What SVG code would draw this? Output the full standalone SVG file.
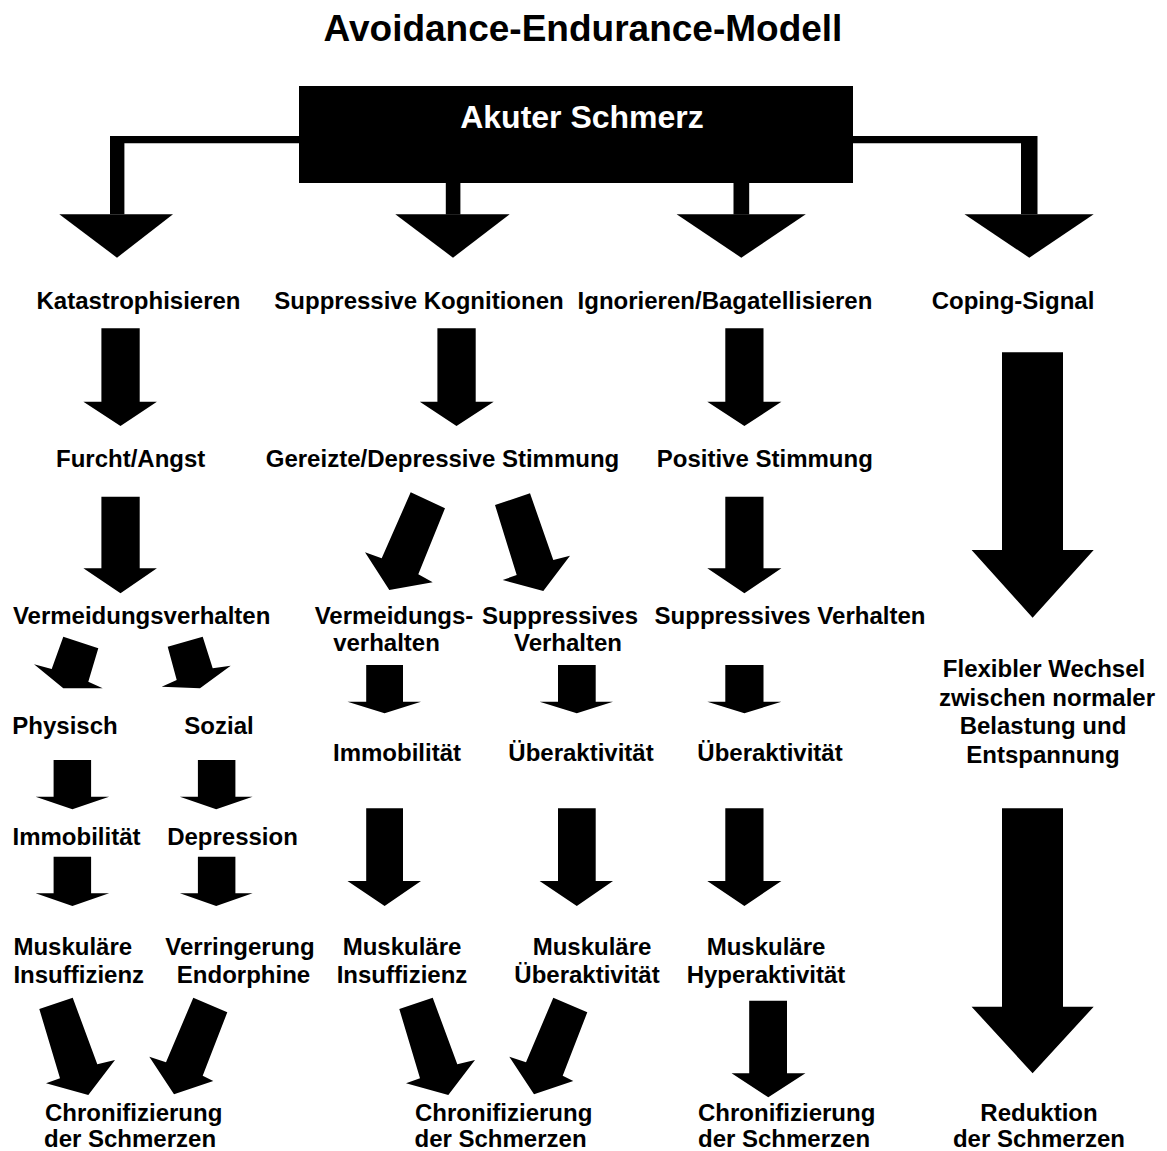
<svg xmlns="http://www.w3.org/2000/svg" width="1167" height="1151" viewBox="0 0 1167 1151">
<style>
text{font-family:"Liberation Sans",Arial,sans-serif;font-weight:bold;font-size:24px;fill:#000;text-anchor:middle}
.l{text-anchor:start}
.a{fill:#000;stroke:none}
</style>
<rect width="1167" height="1151" fill="#fff"/>
<text id="title" x="583" y="41" style="font-size:37px">Avoidance-Endurance-Modell</text>
<g id="connectors">
<polygon class="a" points="299,136 110,136 110,214.3 124.4,214.3 124.4,143.3 299,143.3"/>
<polygon class="a" points="59.3,214.3 173,214.3 117,257.7"/>
<rect class="a" x="445.8" y="183" width="14.6" height="31.5"/>
<polygon class="a" points="395.3,214.3 509.7,214.3 453,257.7"/>
<rect class="a" x="733.5" y="183" width="15.7" height="31.5"/>
<polygon class="a" points="676.6,214.3 805.8,214.3 741.3,257.7"/>
<polygon class="a" points="853,136 1037.5,136 1037.5,214.3 1021,214.3 1021,143.3 853,143.3"/>
<polygon class="a" points="964.5,214.3 1093.7,214.3 1029.3,257.7"/>
<polygon class="a" points="101.4,328.3 139.7,328.3 139.7,401.7 156.9,401.7 120.5,426 83.4,401.7 101.4,401.7"/>
<polygon class="a" points="437.4,328.3 475.7,328.3 475.7,401.7 493.7,401.7 456.5,426 419.8,401.7 437.4,401.7"/>
<polygon class="a" points="725.3,328.3 763.5,328.3 763.5,401.7 781.4,401.7 744.4,426 707.3,401.7 725.3,401.7"/>
<polygon class="a" points="1002,352.3 1063,352.3 1063,550 1093.7,550 1032.6,617.7 971.6,550 1002,550"/>
<polygon class="a" points="101.4,496.7 139.7,496.7 139.7,568.3 156.9,568.3 120.5,593.3 83.4,568.3 101.4,568.3"/>
<polygon class="a" points="725.3,496.7 763.5,496.7 763.5,568.3 781.4,568.3 744.4,593.3 707.3,568.3 725.3,568.3"/>
<polygon class="a" points="410.7,492.3 445,508.3 418.3,574.3 432.7,582.3 389.3,590 365,552.3 381.7,558.3"/>
<polygon class="a" points="495,505 530,493.3 553.3,560 570,555.7 543.3,591 502.7,580 516.7,575"/>
<polygon class="a" points="63.3,636.7 98.3,648.3 88.3,681.7 102.7,688.3 63.3,688.3 34,664.3 51.7,669"/>
<polygon class="a" points="167.7,646.7 202.7,636.7 212.7,668.3 230.7,665.7 200,688.3 161.7,686.7 176.7,680"/>
<polygon class="a" points="366.2,665 403,665 403,701.7 421,701.7 384.6,713.3 347.5,701.7 366.2,701.7"/>
<polygon class="a" points="558,665 595.7,665 595.7,701.7 613,701.7 576.8,713.3 539.6,701.7 558,701.7"/>
<polygon class="a" points="725.3,665 763.5,665 763.5,701.7 781.4,701.7 744.4,713.3 707.3,701.7 725.3,701.7"/>
<polygon class="a" points="53.6,760 91.1,760 91.1,796.7 109.1,796.7 72.4,809.3 35.6,796.7 53.6,796.7"/>
<polygon class="a" points="197.9,760 235.4,760 235.4,796.7 252.6,796.7 216.2,809.3 179.9,796.7 197.9,796.7"/>
<polygon class="a" points="53.6,856.7 91.1,856.7 91.1,893.3 109.1,893.3 72.4,906 35.6,893.3 53.6,893.3"/>
<polygon class="a" points="197.9,856.7 235.4,856.7 235.4,893.3 252.6,893.3 216.2,906 179.9,893.3 197.9,893.3"/>
<polygon class="a" points="366.2,808.3 403,808.3 403,881 421,881 384.6,906 347.5,881 366.2,881"/>
<polygon class="a" points="558,808.3 595.7,808.3 595.7,881 613,881 576.8,906 539.6,881 558,881"/>
<polygon class="a" points="725.3,808.3 763.5,808.3 763.5,881 781.4,881 744.4,906 707.3,881 725.3,881"/>
<polygon class="a" points="1002,808.3 1063,808.3 1063,1006.7 1093.7,1006.7 1032.6,1073.3 971.6,1006.7 1002,1006.7"/>
<polygon class="a" points="39.3,1009 72.7,997.7 97.3,1064.3 115,1060 88.3,1095 46,1083.3 60,1078.3"/>
<polygon class="a" points="193.3,997.7 227.3,1012.3 202.7,1075.7 213.3,1081 174,1094.3 149.3,1056.7 166,1062.3"/>
<polygon class="a" points="399.3,1009 432.7,997.7 457.3,1064.3 475,1060 448.3,1095 406,1083.3 420,1078.3"/>
<polygon class="a" points="553.3,997.7 587.3,1012.3 562.7,1075.7 573.3,1081 534,1094.3 509.3,1056.7 526,1062.3"/>
<polygon class="a" points="749.2,1000.7 787,1000.7 787,1073.3 805.4,1073.3 768.3,1097.3 731.6,1073.3 749.2,1073.3"/>
</g>
<g id="n-akut"><rect x="299" y="86" width="554" height="97" fill="#000"/><text x="582" y="128" style="font-size:32px;fill:#fff">Akuter Schmerz</text></g>
<g id="n-kat"><text x="138.5" y="308.5">Katastrophisieren</text></g>
<g id="n-supkog"><text x="419" y="308.5">Suppressive Kognitionen</text></g>
<g id="n-ign"><text x="725" y="308.5">Ignorieren/Bagatellisieren</text></g>
<g id="n-coping"><text x="1013" y="308.5">Coping-Signal</text></g>
<g id="n-furcht"><text x="130.7" y="467">Furcht/Angst</text></g>
<g id="n-gereizt"><text x="442.5" y="467">Gereizte/Depressive Stimmung</text></g>
<g id="n-positiv"><text x="764.8" y="467">Positive Stimmung</text></g>
<g id="n-verm1"><text x="141.6" y="623.5">Vermeidungsverhalten</text></g>
<g id="n-verm2"><text x="394" y="623.5">Vermeidungs-</text><text x="386.5" y="651">verhalten</text></g>
<g id="n-supv2"><text x="560" y="623.5">Suppressives</text><text x="568" y="651">Verhalten</text></g>
<g id="n-supv3"><text x="790" y="623.5">Suppressives Verhalten</text></g>
<g id="n-flex"><text x="1044" y="677">Flexibler Wechsel</text><text x="1047" y="705.5">zwischen normaler</text><text x="1043" y="734">Belastung und</text><text x="1043" y="762.5">Entspannung</text></g>
<g id="n-phys"><text x="65" y="733.5">Physisch</text></g>
<g id="n-sozial"><text x="219" y="733.5">Sozial</text></g>
<g id="n-immo2"><text x="397" y="761">Immobilität</text></g>
<g id="n-ueber2"><text x="581" y="761">Überaktivität</text></g>
<g id="n-ueber3"><text x="770" y="761">Überaktivität</text></g>
<g id="n-immo1"><text x="76.5" y="844.5">Immobilität</text></g>
<g id="n-depr"><text x="232.5" y="844.5">Depression</text></g>
<g id="n-mi1"><text class="l" x="13.4" y="955">Muskuläre</text><text class="l" x="13.4" y="983">Insuffizienz</text></g>
<g id="n-ve"><text x="240" y="955">Verringerung</text><text x="243.5" y="983">Endorphine</text></g>
<g id="n-mi2"><text x="402" y="955">Muskuläre</text><text x="402" y="983">Insuffizienz</text></g>
<g id="n-mue"><text x="592" y="955">Muskuläre</text><text x="587" y="983">Überaktivität</text></g>
<g id="n-mh"><text x="766" y="955">Muskuläre</text><text x="766" y="983">Hyperaktivität</text></g>
<g id="n-chr1"><text class="l" x="45" y="1120.5">Chronifizierung</text><text class="l" x="44" y="1147">der Schmerzen</text></g>
<g id="n-chr2"><text class="l" x="415" y="1120.5">Chronifizierung</text><text class="l" x="414.5" y="1147">der Schmerzen</text></g>
<g id="n-chr3"><text class="l" x="698" y="1120.5">Chronifizierung</text><text class="l" x="698" y="1147">der Schmerzen</text></g>
<g id="n-red"><text x="1039" y="1120.5">Reduktion</text><text x="1039" y="1147">der Schmerzen</text></g>
</svg>
